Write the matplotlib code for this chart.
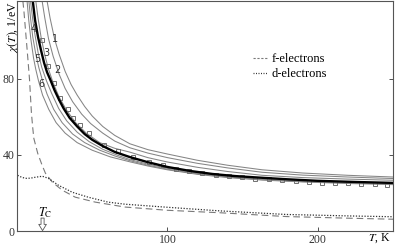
import matplotlib
matplotlib.use("Agg")
import matplotlib.pyplot as plt
from matplotlib.patches import FancyArrowPatch

plt.rcParams['font.family'] = ['Liberation Serif', 'DejaVu Serif']
plt.rcParams['mathtext.fontset'] = 'stix'

# ---- data ----
thick_T = [10.5, 12, 14, 16, 18, 20, 22.2, 25, 28, 31, 35, 40, 45, 50, 57, 65, 75, 87, 100, 115, 130, 145, 163, 180, 200, 225, 250]
thick_chi = [121, 111, 102, 95, 88.5, 83.5, 79.5, 74, 69, 64.5, 59.5, 55, 51, 48, 44.7, 41.6, 38.9, 36.2, 33.7, 31.6, 30.0, 28.9, 28.0, 27.2, 26.4, 25.8, 25.3]

c1_T = [20, 22, 25, 28, 32, 36, 40, 45, 50, 57, 65, 75, 87, 100, 120, 140, 163, 190, 220, 250]
c1_chi = [121, 112, 101, 93, 84, 77, 71.5, 65.5, 60.5, 55, 50.3, 45.9, 42.8, 40.5, 37.2, 34.6, 32.2, 30.5, 29.3, 28.4]

c2_T = [16.7, 18.5, 21, 24, 28, 32, 37, 43, 49, 57, 65, 75, 87, 100, 120, 140, 163, 190, 220, 250]
c2_chi = [121, 112, 101, 92, 82.5, 75, 68, 61.5, 56.5, 51.5, 47.3, 43.8, 41, 38.6, 35.6, 33.2, 30.9, 29.4, 28.4, 27.6]

c3_T = [12.5, 14, 16, 18.5, 21, 24, 28, 33, 39, 46, 55, 65, 75, 87, 100, 120, 140, 163, 190, 220, 250]
c3_chi = [121, 112, 102, 92.5, 85, 78, 70.5, 63.5, 57, 51.5, 46.5, 43.5, 41.5, 38.6, 36.3, 33.5, 31.3, 29.3, 28.1, 27.3, 26.7]

c4_T = [9, 10.5, 12, 14, 16.5, 19.6, 23, 27.7, 33, 40, 48, 57, 67, 75, 87, 100, 120, 140, 163, 190, 220, 250]
c4_chi = [121, 111, 103, 94, 86, 79, 72.5, 64.5, 58, 52, 47, 43, 39.8, 37.6, 35.2, 33, 30.5, 28.7, 27.3, 26.3, 25.6, 25.0]

c5_T = [7.9, 9, 10.5, 12.5, 14.5, 17, 20, 24.4, 30, 37, 45, 55, 65, 75, 87, 100, 120, 140, 163, 190, 220, 250]
c5_chi = [121, 112, 102, 93, 86, 79, 72, 64, 57, 51, 46.5, 42.5, 39.5, 37, 34.6, 32.5, 30.1, 28.4, 27, 26, 25.3, 24.7]

c6_T = [6.7, 7.8, 9.2, 11, 12.5, 14.3, 17, 21.1, 26, 32, 40, 50, 62, 75, 87, 100, 120, 140, 163, 190, 220, 250]
c6_chi = [121, 111, 101, 91, 85, 79, 71.5, 64, 57, 51.5, 46.5, 42.5, 39, 36.4, 34.2, 32.2, 29.8, 28.1, 26.8, 25.8, 25, 24.4]

sq_T = [16.7, 20.9, 24.9, 28.8, 34.1, 37.4, 42, 48, 57.9, 67.2, 77, 87.6, 96.9, 105.7, 114.5, 123.3, 132.1, 140.9, 149.7,
        158.5, 167.3, 176.2, 185.5, 194, 202.6, 211.2, 219.8, 228.4, 237.7, 246.3]
sq_chi = [100.5, 86.9, 78, 70.2, 64.4, 59.7, 56, 51.3, 45.5, 41.9, 38.7, 36.1, 34.6, 32.6, 31.4, 30.4, 29.5, 28.8, 28.2,
          27.6, 27.1, 26.7, 26.2, 25.7, 25.3, 25.3, 25.0, 24.8, 24.6, 24.2]

f_T = [3.9, 4.6, 6.8, 8.3, 9.6, 10.5, 11.2, 13.8, 16.7, 18.9, 23.5, 30, 38.7, 52, 71.8, 100, 135, 179, 222, 250]
f_chi = [121, 115.7, 94.8, 80, 62, 54, 48.7, 40.8, 34.6, 30.4, 25.7, 21.5, 17.8, 15.2, 12.6, 10.9, 9.6, 7.6, 6.7, 6.2]

d_T = [0.4, 3, 5.7, 9, 12.3, 16.9, 20.9, 27.5, 36.7, 47.3, 60.5, 71.8, 101.5, 134.6, 178.8, 222.5, 250]
d_chi = [29.3, 28.3, 27.7, 27.8, 28.3, 28.8, 27.7, 24.1, 20.4, 17.8, 15.2, 14.1, 12.4, 10.6, 8.7, 7.9, 7.5]

curve_labels = ['1', '2', '3', '4', '5', '6']
label_T = [25.5, 26.8, 19.6, 11.0, 13.6, 16.1]
label_chi = [101, 84.8, 93.7, 106.3, 90.6, 77.5]

xticks = [100, 200]
yticks = [0, 40, 80]
Tc = 17

# ---- figure ----
fig = plt.figure(figsize=(3.95, 2.45), dpi=100)
ax = fig.add_axes([17/395, 1 - 231/245, (393-17)/395, 230/245])

thin = dict(color='#858585', lw=0.75)
for T, c in [(c1_T, c1_chi), (c2_T, c2_chi), (c3_T, c3_chi), (c4_T, c4_chi), (c5_T, c5_chi), (c6_T, c6_chi)]:
    ax.plot(T, c, **thin)
ax.plot(sq_T, sq_chi, ls='none', marker='s', ms=3.2, mfc='none', mec='#707070', mew=0.7)
ax.plot(thick_T, thick_chi, color='black', lw=1.7)

fl, = ax.plot(f_T, f_chi, color='#7a7a7a', lw=0.8, dashes=(6, 3.5))
dl, = ax.plot(d_T, d_chi, color='#333333', lw=0.9, dashes=(1, 1.3))

for s, x, y in zip(curve_labels, label_T, label_chi):
    ax.text(x, y, s, fontsize=7, family='DejaVu Sans', color='#333333', ha='center', va='center')

leg = ax.legend([fl, dl], ['f-electrons', 'd-electrons'], loc='upper left',
                bbox_to_anchor=(0.61, 0.80), frameon=False, fontsize=9,
                handlelength=1.15, handletextpad=0.4, labelspacing=0.25, borderpad=0)
leg.get_lines()[0].set_dashes((2, 1.5))
leg.get_lines()[1].set_dashes((0.8, 1.2))

arr = FancyArrowPatch((Tc, 6.8), (Tc, 0.2),
                      arrowstyle='simple,head_length=0.45,head_width=0.55,tail_width=0.22',
                      mutation_scale=10, fc='white', ec='#555555', lw=0.6,
                      shrinkA=0, shrinkB=0, zorder=5)
ax.add_patch(arr)
ax.text(Tc + 1.5, 7.6, r'$T_{\rm C}$', fontsize=9, ha='center', va='baseline')

ax.set_xlim(0, 250)
ax.set_ylim(0, 121)
ax.set_xticks(xticks)
ax.set_yticks(yticks)
ax.tick_params(direction='in', length=3, width=0.6, labelsize=8.5, pad=2, right=True, top=False, colors='#333333')
for sp in ax.spines.values():
    sp.set_linewidth(0.8)
    sp.set_color('#555555')

ax.text(0.995, -0.043, r'$T$, K', transform=ax.transAxes, fontsize=8.5, ha='right', va='baseline')
ax.set_ylabel(r'$\chi(T)$, 1/eV', fontsize=8.5, labelpad=1)
ax.yaxis.set_label_coords(-0.032, 1.0)
ax.yaxis.label.set_va('top')
ax.yaxis.label.set_ha('right')

fig.savefig('out.png', dpi=100)
